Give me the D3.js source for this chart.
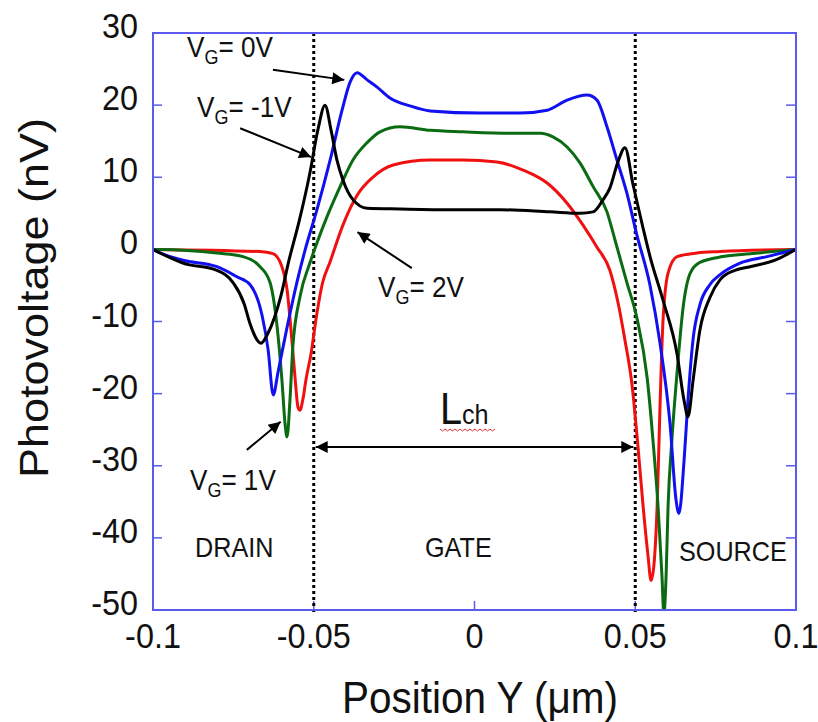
<!DOCTYPE html>
<html>
<head>
<meta charset="utf-8">
<script src="https://cdnjs.cloudflare.com/ajax/libs/d3/7.8.5/d3.min.js"></script>
<style>
  body { margin: 0; background: #fff; }
  text { font-family: "Liberation Sans", Arial, sans-serif; fill: #111; }
</style>
</head>
<body>
<div id="chart"></div>
<script>
// axis ticks
const xTicks = [-0.1, -0.05, 0, 0.05, 0.1]
const xTickLabels = ['-0.1', '-0.05', '0', '0.05', '0.1']
const yTicks = [30, 20, 10, 0, -10, -20, -30, -40, -50]
const gateEdges = [-0.05, 0.05]

// photovoltage traces, [position um, nV]
const vgM1 = [[-0.1,0],[-0.0978,-0.5],[-0.0907,-1.9],[-0.0801,-2.9],[-0.0751,-4.6],[-0.0716,-7.6],[-0.0699,-10.2],
  [-0.0664,-13.0],[-0.0642,-11.6],[-0.0603,-6.6],[-0.0577,-1.5],[-0.0546,3.8],[-0.0512,10.6],[-0.0487,16.6],
  [-0.0465,20.0],[-0.0446,16.5],[-0.0428,12.4],[-0.0409,9.6],[-0.0378,6.9],[-0.0334,5.7],[-0.0232,5.6],
  [-0.0076,5.5],[0.0079,5.5],[0.0235,5.2],[0.0328,5.0],[0.0369,5.2],[0.04,6.9],[0.0421,8.5],[0.0446,12.1],
  [0.0468,14.1],[0.0493,9.0],[0.0524,3.0],[0.0546,-1.0],[0.0586,-7.0],[0.063,-14.5],[0.0652,-21.0],
  [0.0664,-23.2],[0.068,-18.1],[0.0701,-11.2],[0.0732,-6.7],[0.0764,-4.2],[0.081,-2.9],[0.0857,-2.4],
  [0.0935,-1.5],[0.1,0]]

const vg0 = [[-0.1,0],[-0.0978,-0.5],[-0.0907,-1.5],[-0.0801,-2.4],[-0.0739,-3.8],[-0.0698,-4.9],[-0.0661,-9.1],
  [-0.0642,-13.9],[-0.0626,-20.2],[-0.0611,-17.0],[-0.0583,-10.8],[-0.0552,-4.5],[-0.0527,-0.1],[-0.049,5.5],
  [-0.0449,12.4],[-0.0412,19.3],[-0.0387,23.2],[-0.0365,24.5],[-0.0334,23.5],[-0.0303,22.5],[-0.0263,21.0],
  [-0.0201,19.9],[-0.0138,19.2],[0.0017,18.9],[0.0142,18.9],[0.0226,19.3],[0.0288,20.7],[0.035,21.4],
  [0.0381,20.7],[0.0412,17.0],[0.0443,12.4],[0.0474,7.8],[0.0505,2.0],[0.0546,-5.0],[0.0577,-13.0],
  [0.0608,-24.1],[0.0627,-34.8],[0.0636,-36.6],[0.0652,-29.2],[0.0664,-20.9],[0.068,-12.4],[0.0701,-7.7],
  [0.0732,-4.9],[0.0764,-3.5],[0.0826,-1.9],[0.091,-1.0],[0.1,0]]

const vg1 = [[-0.1,0],[-0.0978,0],[-0.0801,-0.5],[-0.072,-1.0],[-0.0667,-2.4],[-0.0636,-4.6],[-0.0614,-10.7],
  [-0.0599,-18.1],[-0.0589,-24.3],[-0.0583,-26.0],[-0.0574,-20.9],[-0.0565,-13.5],[-0.0543,-6.6],[-0.0512,-1.9],
  [-0.049,0.9],[-0.0459,4.5],[-0.0418,8.7],[-0.0378,12.4],[-0.0334,14.8],[-0.0294,16.3],[-0.0232,17.0],
  [-0.0138,16.5],[-0.0036,16.3],[0.012,16.1],[0.0204,16.1],[0.0244,15.6],[0.0288,14.2],[0.0328,12.0],
  [0.0369,8.7],[0.0412,5.2],[0.0437,1.3],[0.0474,-4.6],[0.0505,-9.5],[0.0537,-17.8],[0.0555,-26.4],
  [0.0571,-35.7],[0.0583,-45.2],[0.0589,-50.5],[0.0596,-45.2],[0.0602,-35.7],[0.0614,-26.4],[0.063,-17.1],
  [0.0649,-8.0],[0.0671,-3.3],[0.0701,-1.8],[0.0773,-1.0],[0.0857,-0.6],[0.1,0]]

const vg2 = [[-0.1,0],[-0.0667,-0.3],[-0.0627,-0.6],[-0.0599,-2.4],[-0.0583,-5.6],[-0.0568,-12.6],[-0.0558,-17.9],
  [-0.0549,-21.9],[-0.0543,-22.3],[-0.0533,-20.6],[-0.0524,-18.0],[-0.0509,-14.6],[-0.0491,-9.1],[-0.0473,-4.7],
  [-0.0449,-1.7],[-0.0409,3.4],[-0.0365,7.5],[-0.0316,10.0],[-0.0253,11.7],[-0.0138,12.4],[-0.0036,12.4],
  [0.007,12.1],[0.0151,11.0],[0.0226,9.2],[0.0288,6.4],[0.0337,3.4],[0.0381,0.3],[0.0421,-2.9],[0.0446,-7.3],
  [0.0468,-12.6],[0.049,-18.8],[0.0508,-27.1],[0.0524,-35.4],[0.054,-42.6],[0.0549,-45.9],[0.0558,-43.8],
  [0.0568,-35.7],[0.0577,-21.8],[0.0586,-10.2],[0.0602,-3.3],[0.063,-1.0],[0.0692,-0.5],[0.0764,-0.3],[0.1,0]]

const series = [
  {name: 'VG=2V', data: vg2, color: '#f01010'},
  {name: 'VG=1V', data: vg1, color: '#0b6b12'},
  {name: 'VG=0V', data: vg0, color: '#1010f0'},
  {name: 'VG=-1V', data: vgM1, color: '#000000'}
]

var W = 818, H = 722
var x = d3.scaleLinear().domain([-0.1, 0.1]).range([153, 796])
var y = d3.scaleLinear().domain([-50, 30]).range([610, 33])

var svg = d3.select('#chart').append('svg')
  .attr('width', W).attr('height', H)

var defs = svg.append('defs')
defs.append('clipPath').attr('id', 'plot-clip')
  .append('rect')
  .attr('x', x(-0.1)).attr('y', y(30))
  .attr('width', x(0.1) - x(-0.1)).attr('height', y(-50) - y(30))

defs.append('marker')
  .attr('id', 'head')
  .attr('viewBox', '0 0 10 10')
  .attr('refX', 10).attr('refY', 5)
  .attr('markerWidth', 8).attr('markerHeight', 6)
  .attr('markerUnits', 'strokeWidth')
  .attr('orient', 'auto-start-reverse')
  .append('path').attr('d', 'M0,0 L10,5 L0,10 z').attr('fill', '#000')

// compressed text helper (the original type is a bit narrow)
function label(g, px, py, str, size, anchor) {
  return g.append('text')
    .attr('transform', 'translate(' + px + ',' + py + ') scale(0.9,1)')
    .attr('text-anchor', anchor || 'start')
    .style('font-size', size + 'px')
    .text(str)
}

var frame = '#5a5aee'

// ticks (inside)
var tickG = svg.append('g').attr('class', 'ticks')
tickG.selectAll('.yl').data(yTicks).enter().append('line')
  .attr('x1', x(-0.1)).attr('x2', x(-0.1) + 9)
  .attr('y1', d => y(d)).attr('y2', d => y(d))
  .attr('stroke', frame).attr('stroke-width', 1.5)
tickG.selectAll('.yr').data(yTicks).enter().append('line')
  .attr('x1', x(0.1)).attr('x2', x(0.1) - 10)
  .attr('y1', d => y(d)).attr('y2', d => y(d))
  .attr('stroke', frame).attr('stroke-width', 1.5)
tickG.selectAll('.xb').data(xTicks).enter().append('line')
  .attr('x1', d => x(d)).attr('x2', d => x(d))
  .attr('y1', y(-50)).attr('y2', y(-50) - 9)
  .attr('stroke', frame).attr('stroke-width', 1.5)

// tick labels
var labG = svg.append('g').attr('class', 'tick-labels')
yTicks.forEach(d => label(labG, 138, y(d) + 5, d, 36, 'end'))
xTicks.forEach((d, i) => label(labG, x(d), 648, xTickLabels[i], 36, 'middle'))

// axis titles
svg.append('text')
  .attr('transform', 'translate(48,' + 298 + ') rotate(-90) scale(1,0.9)')
  .attr('text-anchor', 'middle')
  .style('font-size', '45px')
  .text('Photovoltage (nV)')
label(svg, 480, 713, 'Position Y  (\u03bcm)', 45, 'middle')

// gate edge dotted lines
svg.selectAll('.edge').data(gateEdges).enter().append('line')
  .attr('x1', d => x(d)).attr('x2', d => x(d))
  .attr('y1', y(30)).attr('y2', y(-50) + 4)
  .attr('stroke', '#000').attr('stroke-width', 3)
  .attr('stroke-dasharray', '3,3')

// curves
var line = d3.line()
  .x(d => x(d[0]))
  .y(d => y(d[1]))
  .curve(d3.curveMonotoneX)

svg.append('g').attr('clip-path', 'url(#plot-clip)')
  .selectAll('path').data(series).enter().append('path')
  .attr('d', d => line(d.data))
  .attr('fill', 'none')
  .attr('stroke', d => d.color)
  .attr('stroke-width', 3)
  .attr('stroke-linejoin', 'round')

// frame
svg.append('rect')
  .attr('x', x(-0.1)).attr('y', y(30))
  .attr('width', x(0.1) - x(-0.1)).attr('height', y(-50) - y(30))
  .attr('fill', 'none').attr('stroke', frame).attr('stroke-width', 2)

// annotations
var ann = svg.append('g').attr('class', 'annotations')

function vgLabel(px, py, val) {
  var t = ann.append('text')
    .attr('transform', 'translate(' + px + ',' + py + ') scale(0.9,1)')
    .style('font-size', '29px')
  t.append('tspan').text('V')
  t.append('tspan').attr('dy', 7).style('font-size', '20px').text('G')
  t.append('tspan').attr('dy', -7).text('= ' + val)
}
vgLabel(x(-0.0894), y(26.7), '0V')
vgLabel(x(-0.0863), y(18.3), '-1V')
vgLabel(x(-0.03), y(-6.6), '2V')
vgLabel(x(-0.0885), y(-33.4), '1V')

var arrows = [
  [[-0.0627, 24.9], [-0.0405, 23.5]],
  [[-0.0729, 16.8], [-0.0508, 12.8]],
  [[-0.0195, -2.6], [-0.0364, 2.4]],
  [[-0.0708, -27.8], [-0.0603, -23.9]]
]
arrows.forEach(a => {
  ann.append('line')
    .attr('x1', x(a[0][0])).attr('y1', y(a[0][1]))
    .attr('x2', x(a[1][0])).attr('y2', y(a[1][1]))
    .attr('stroke', '#000').attr('stroke-width', 2)
    .attr('marker-end', 'url(#head)')
})

// Lch double arrow
ann.append('line')
  .attr('x1', x(-0.0494)).attr('x2', x(0.0494))
  .attr('y1', y(-27.4)).attr('y2', y(-27.4))
  .attr('stroke', '#000').attr('stroke-width', 2)
  .attr('marker-start', 'url(#head)')
  .attr('marker-end', 'url(#head)')

var lch = ann.append('text')
  .attr('transform', 'translate(440,424) scale(0.9,1)')
lch.append('tspan').style('font-size', '44px').text('L')
lch.append('tspan').style('font-size', '28px').text('ch')

// red spell-check squiggle under "ch"
var sq = []
for (var i = 0; i <= 22; i++) sq.push([440 + i * 2.5, 429 + (i % 2 ? 2 : 0)])
ann.append('path')
  .attr('d', d3.line()(sq))
  .attr('fill', 'none').attr('stroke', '#e03030').attr('stroke-width', 1)

label(ann, 195, 557, 'DRAIN', 28)
label(ann, 425, 557, 'GATE', 28)
label(ann, 679, 561, 'SOURCE', 28)
</script>
</body>
</html>
